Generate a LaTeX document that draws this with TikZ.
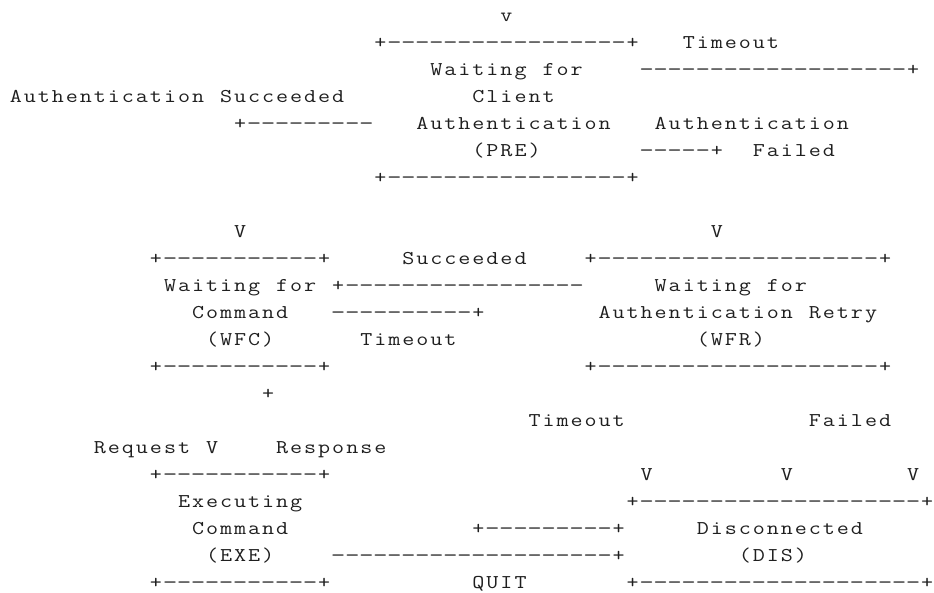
\documentclass[tikz,border=0pt]{standalone}
\usepackage{graphicx}
\newdimen\chw \chw=14.02pt
\def\spreadtxt#1{\spreadstep#1\relax}
\def\spreadstep#1{\ifx\relax#1\else\makebox[\chw][c]{\ifx-#1\scalebox{1.45}[1]{-}\else\scalebox{1.2}[1]{#1}\fi}\expandafter\spreadstep\fi}
\tikzset{asc/.style={inner sep=0pt, outer sep=0pt, anchor=base west, text=black!88,
  font=\fontsize{19.5}{20}\selectfont\ttfamily}}
\newcommand\ascput[4]{\node[asc] (#1) at ({8.8pt+14.02pt*#2},{-21pt-27pt*(#3-1)}) {\spreadtxt{#4}};}
\begin{document}
\begin{tikzpicture}
\fill[white] (0,0) rectangle (934pt,-592pt);
\useasboundingbox (0,0) rectangle (934pt,-592pt);
% line 1
\ascput{a1}{35}{1}{v}
% line 2
\ascput{b1}{26}{2}{+-----------------+}
\ascput{b2}{48}{2}{Timeout}
% line 3
\ascput{c1}{30}{3}{Waiting}
\ascput{c2}{38}{3}{for}
\ascput{c3}{45}{3}{-------------------+}
% line 4
\ascput{d1}{0}{4}{Authentication}
\ascput{d2}{15}{4}{Succeeded}
\ascput{d3}{33}{4}{Client}
% line 5
\ascput{e1}{16}{5}{+---------}
\ascput{e2}{29}{5}{Authentication}
\ascput{e3}{46}{5}{Authentication}
% line 6
\ascput{f1}{33}{6}{(PRE)}
\ascput{f2}{45}{6}{-----+}
\ascput{f3}{53}{6}{Failed}
% line 7
\ascput{g1}{26}{7}{+-----------------+}
% line 9
\ascput{i1}{16}{9}{V}
\ascput{i2}{50}{9}{V}
% line 10
\ascput{j1}{10}{10}{+-----------+}
\ascput{j2}{28}{10}{Succeeded}
\ascput{j3}{41}{10}{+--------------------+}
% line 11
\ascput{k1}{11}{11}{Waiting}
\ascput{k2}{19}{11}{for}
\ascput{k3}{23}{11}{+-----------------}
\ascput{k4}{46}{11}{Waiting}
\ascput{k5}{54}{11}{for}
% line 12
\ascput{l1}{13}{12}{Command}
\ascput{l2}{23}{12}{----------+}
\ascput{l3}{42}{12}{Authentication}
\ascput{l4}{57}{12}{Retry}
% line 13
\ascput{m1}{14}{13}{(WFC)}
\ascput{m2}{25}{13}{Timeout}
\ascput{m3}{49}{13}{(WFR)}
% line 14
\ascput{n1}{10}{14}{+-----------+}
\ascput{n2}{41}{14}{+--------------------+}
% line 15
\ascput{o1}{18}{15}{+}
% line 16
\ascput{p1}{37}{16}{Timeout}
\ascput{p2}{57}{16}{Failed}
% line 17
\ascput{q1}{6}{17}{Request}
\ascput{q2}{14}{17}{V}
\ascput{q3}{19}{17}{Response}
% line 18
\ascput{r1}{10}{18}{+-----------+}
\ascput{r2}{45}{18}{V}
\ascput{r3}{55}{18}{V}
\ascput{r4}{64}{18}{V}
% line 19
\ascput{s1}{12}{19}{Executing}
\ascput{s2}{44}{19}{+--------------------+}
% line 20
\ascput{t1}{13}{20}{Command}
\ascput{t2}{33}{20}{+---------+}
\ascput{t3}{49}{20}{Disconnected}
% line 21
\ascput{u1}{14}{21}{(EXE)}
\ascput{u2}{23}{21}{--------------------+}
\ascput{u3}{52}{21}{(DIS)}
% line 22
\ascput{v1}{10}{22}{+-----------+}
\ascput{v2}{33}{22}{QUIT}
\ascput{v3}{44}{22}{+--------------------+}
\end{tikzpicture}
\end{document}
